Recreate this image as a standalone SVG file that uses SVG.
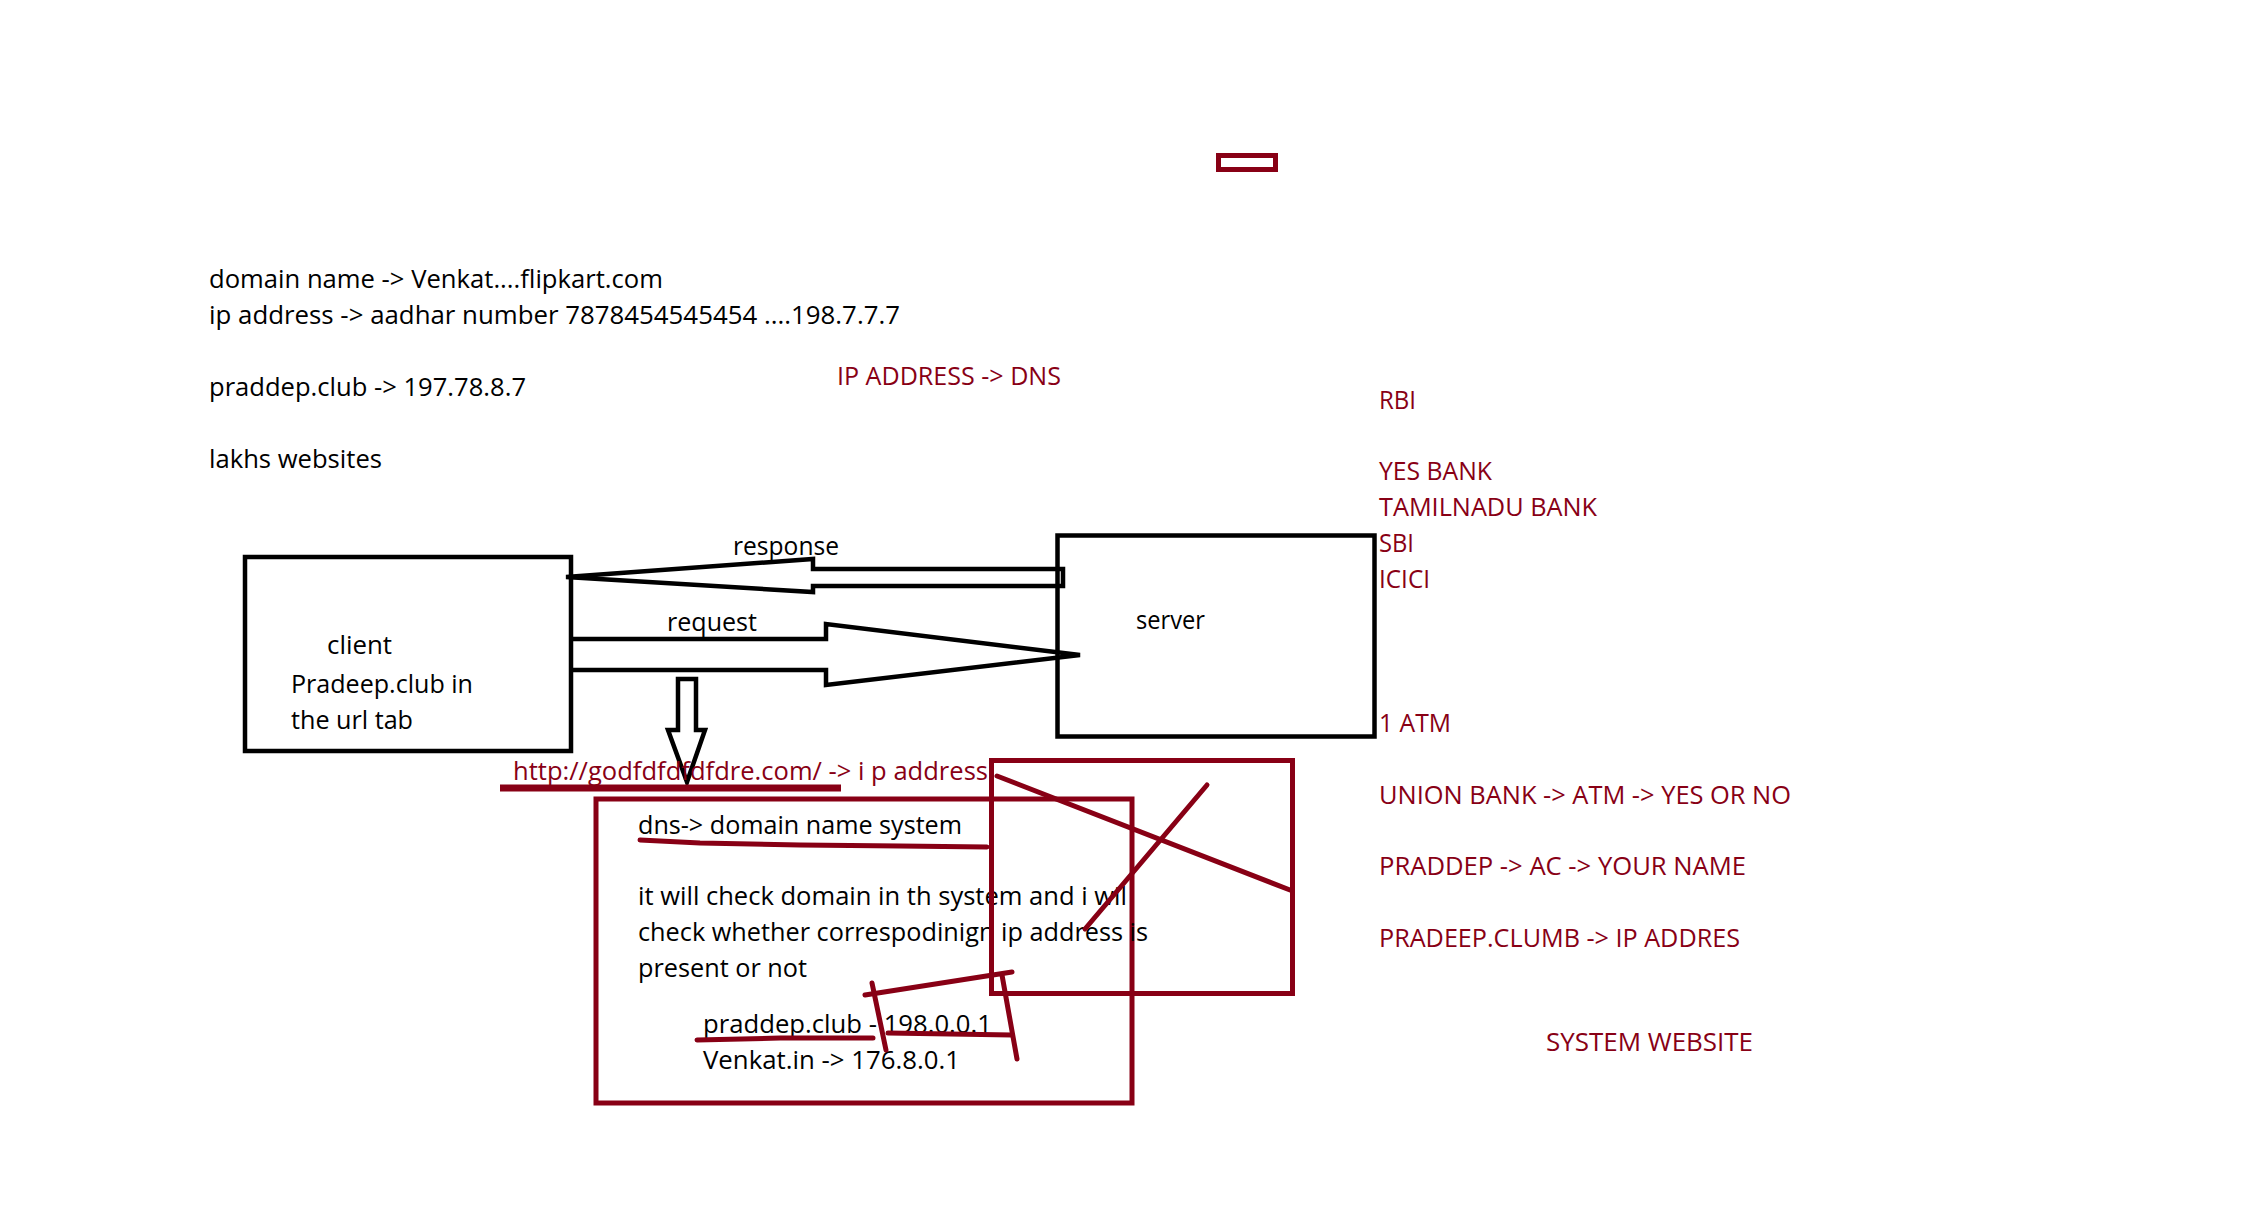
<svg xmlns="http://www.w3.org/2000/svg" width="2268" height="1216" viewBox="0 0 2268 1216">
<style>
text{font-family:"Open Sans","Noto Sans","Liberation Sans",sans-serif;font-size:26px}
.k{fill:#000}
.r{fill:#880015}
.box{fill:none;stroke:#000;stroke-width:4.5}
.rbox{fill:none;stroke:#880015;stroke-width:5}
.arr{fill:none;stroke:#000;stroke-width:4.5;stroke-linejoin:miter}
.rl{fill:none;stroke:#880015;stroke-width:5;stroke-linecap:round;stroke-linejoin:round}
</style>
<rect width="2268" height="1216" fill="#fff"/>

<g id="small-rect">
<rect class="rbox" x="1218.5" y="155.5" width="57" height="14"/>
</g>

<g id="notes-top">
<text class="k" x="209" y="288" textLength="454" lengthAdjust="spacingAndGlyphs">domain name -&gt; Venkat....flipkart.com</text>
<text class="k" x="209" y="324" textLength="691" lengthAdjust="spacingAndGlyphs">ip address -&gt; aadhar number 7878454545454 ....198.7.7.7</text>
<text class="k" x="209" y="396" textLength="317" lengthAdjust="spacingAndGlyphs">praddep.club -&gt; 197.78.8.7</text>
<text class="k" x="209" y="468" textLength="173" lengthAdjust="spacingAndGlyphs">lakhs websites</text>
<text class="r" x="837" y="385" textLength="224" lengthAdjust="spacingAndGlyphs">IP ADDRESS -&gt; DNS</text>
</g>

<g id="bank-list">
<text class="r" x="1379" y="409" textLength="37" lengthAdjust="spacingAndGlyphs">RBI</text>
<text class="r" x="1379" y="480" textLength="113" lengthAdjust="spacingAndGlyphs">YES BANK</text>
<text class="r" x="1379" y="516" textLength="218" lengthAdjust="spacingAndGlyphs">TAMILNADU BANK</text>
<text class="r" x="1379" y="552" textLength="35" lengthAdjust="spacingAndGlyphs">SBI</text>
<text class="r" x="1379" y="588" textLength="51" lengthAdjust="spacingAndGlyphs">ICICI</text>
<text class="r" x="1379" y="732" textLength="72" lengthAdjust="spacingAndGlyphs">1 ATM</text>
<text class="r" x="1379" y="804" textLength="412" lengthAdjust="spacingAndGlyphs">UNION BANK -&gt; ATM -&gt; YES OR NO</text>
<text class="r" x="1379" y="875" textLength="367" lengthAdjust="spacingAndGlyphs">PRADDEP -&gt; AC -&gt; YOUR NAME</text>
<text class="r" x="1379" y="947" textLength="361" lengthAdjust="spacingAndGlyphs">PRADEEP.CLUMB -&gt; IP ADDRES</text>
<text class="r" x="1546" y="1051" textLength="207" lengthAdjust="spacingAndGlyphs">SYSTEM WEBSITE</text>
</g>

<g id="client">
<rect class="box" x="245" y="557" width="326" height="194"/>
<text class="k" x="327" y="654" textLength="65" lengthAdjust="spacingAndGlyphs">client</text>
<text class="k" x="291" y="693" textLength="182" lengthAdjust="spacingAndGlyphs">Pradeep.club in</text>
<text class="k" x="291" y="729" textLength="122" lengthAdjust="spacingAndGlyphs">the url tab</text>
</g>

<g id="server">
<rect class="box" x="1057.5" y="535.5" width="317" height="201"/>
<text class="k" x="1136" y="629" textLength="69" lengthAdjust="spacingAndGlyphs">server</text>
</g>

<g id="connectors">
<path id="response" class="arr" d="M566,577 L813,559 L813,569 L1063,569 L1063,586 L813,586 L813,592 Z"/>
<text class="k" x="733" y="555" textLength="106" lengthAdjust="spacingAndGlyphs">response</text>
<path id="request" class="arr" d="M573,639 L826,639 L826,624 L1080,655 L826,685 L826,670 L573,670"/>
<text class="k" x="667" y="631" textLength="90" lengthAdjust="spacingAndGlyphs">request</text>
<path id="to-dns" class="arr" d="M678,679 L696,679 L696,730 L705,730 L687,782 L668,730 L678,730 Z"/>
</g>

<g id="url-note">
<text class="r" x="513" y="780" textLength="475" lengthAdjust="spacingAndGlyphs">http://godfdfdfdfdre.com/ -&gt; i p address</text>
<line x1="500" y1="788" x2="841" y2="788" stroke="#880015" stroke-width="7"/>
</g>

<g id="dns">
<rect class="rbox" x="596" y="799" width="536" height="304"/>
<text class="k" x="638" y="834" textLength="324" lengthAdjust="spacingAndGlyphs">dns-&gt; domain name system</text>
<text class="k" x="638" y="905" textLength="489" lengthAdjust="spacingAndGlyphs">it will check domain in th system and i wil</text>
<text class="k" x="638" y="941" textLength="510" lengthAdjust="spacingAndGlyphs">check whether correspodinign ip address is</text>
<text class="k" x="638" y="977" textLength="169" lengthAdjust="spacingAndGlyphs">present or not</text>
<text class="k" x="703" y="1033" textLength="289" lengthAdjust="spacingAndGlyphs">praddep.club - 198.0.0.1</text>
<text class="k" x="703" y="1069" textLength="257" lengthAdjust="spacingAndGlyphs">Venkat.in -&gt; 176.8.0.1</text>
</g>

<g id="crossed-box">
<rect class="rbox" x="991.5" y="760.5" width="301" height="233"/>
<line class="rl" x1="997" y1="776" x2="1290" y2="890"/>
<line class="rl" x1="1207" y1="785" x2="1085" y2="929"/>
</g>

<g id="annotations">
<path class="rl" stroke-width="4.5" d="M640,840 L700,843 L800,845 L900,846 L987,847"/>
<path class="rl" stroke-width="4.5" d="M697,1040 L780,1038 L873,1038"/>
<path class="rl" stroke-width="4.5" d="M888,1033 L1012,1035"/>
<line class="rl" x1="865" y1="995" x2="1012" y2="972"/>
<line class="rl" x1="872" y1="983" x2="886" y2="1050"/>
<line class="rl" x1="1002" y1="975" x2="1017" y2="1059"/>
</g>
</svg>
